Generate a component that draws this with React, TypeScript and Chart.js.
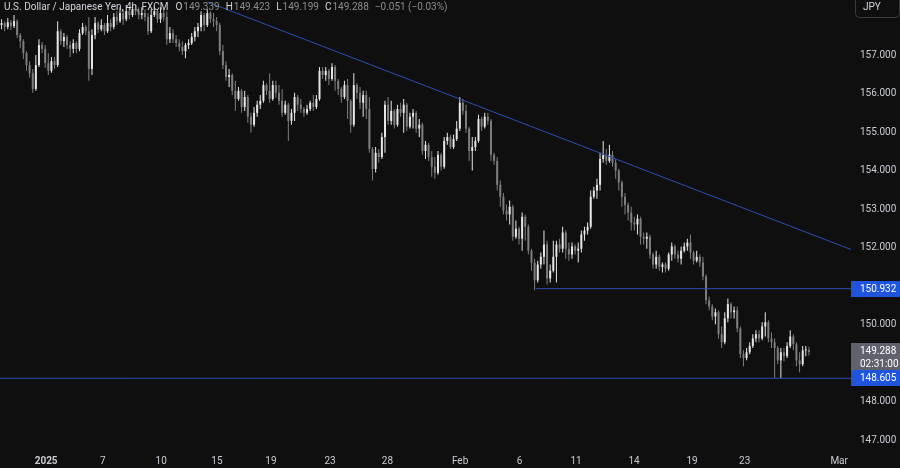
import React, { useEffect, useRef } from 'react';
import { Chart, registerables } from 'chart.js';

Chart.register(...registerables);

const FONT = 'Roboto, "Liberation Sans", Arial, sans-serif';
const BG = '#0f0f0f';
const UP = '#e6e6e6';
const DOWN = '#7e7e7e';
const LINE_BLUE = '#2a4fb0';
const BOX_BLUE = '#1f54dc';
const BOX_GRAY = '#5f626c';
const AXIS_TEXT = '#c9ccd4';

// ---- data (USD/JPY 4h, FXCM) ----
const firstOpen = 157.78;

const closes = [
  157.83, 157.73, 157.85, 157.75, 157.88, 157.52, 157.36, 157.05, 156.74, 156.53,
  156.12, 156.74, 157.26, 157.16, 156.79, 156.59, 156.84, 156.74, 157.62, 157.36,
  157.47, 157.26, 157.16, 157.31, 157.16, 157.57, 157.73, 157.62, 156.64, 157.52,
  157.83, 157.67, 157.78, 157.62, 157.83, 157.73, 157.99, 157.88, 158.09, 157.93,
  158.14, 158.04, 158.19, 158.14, 158.04, 158.09, 157.99, 157.62, 158.04, 158.14,
  157.93, 158.09, 157.99, 157.41, 157.57, 157.41, 157.31, 157.21, 157.10, 157.26,
  157.31, 157.47, 157.62, 157.73, 158.04, 157.78, 158.09, 157.93, 157.88, 157.78,
  157.10, 156.74, 156.43, 156.48, 156.07, 155.86, 156.07, 155.65, 155.91, 155.40,
  155.19, 155.50, 155.71, 155.81, 156.22, 156.07, 155.86, 156.22, 156.02, 155.81,
  155.50, 155.71, 155.29, 155.50, 155.91, 155.71, 155.60, 155.50, 155.60, 155.76,
  155.65, 155.86, 156.59, 156.48, 156.59, 156.38, 156.69, 156.33, 156.12, 155.91,
  156.22, 155.81, 155.19, 156.22, 156.02, 155.76, 155.96, 155.60, 154.56, 154.04,
  154.46, 154.35, 154.87, 155.71, 155.29, 155.55, 155.19, 155.60, 155.50, 155.71,
  155.14, 155.40, 155.50, 155.09, 155.19, 154.51, 154.67, 154.35, 154.10, 153.94,
  154.41, 154.10, 154.77, 154.87, 154.61, 154.82, 155.09, 155.76, 155.55, 155.09,
  154.51, 154.61, 154.77, 155.34, 155.14, 155.40, 155.29, 154.41, 154.25, 153.63,
  153.32, 152.96, 152.86, 153.06, 152.28, 152.49, 152.23, 152.80, 152.54, 151.92,
  151.61, 151.15, 151.56, 151.76, 152.08, 151.20, 151.40, 151.76, 152.08, 151.97,
  152.39, 151.97, 151.82, 152.03, 151.92, 151.97, 152.34, 152.44, 152.54, 153.32,
  153.48, 153.63, 154.30, 154.41, 154.25, 154.41, 154.20, 154.00, 153.69, 153.32,
  153.11, 152.91, 152.65, 152.60, 152.75, 152.28, 152.23, 152.28, 151.82, 151.56,
  151.76, 151.50, 151.56, 151.45, 151.82, 152.03, 151.82, 151.71, 151.92, 152.03,
  152.13, 151.87, 151.66, 151.76, 151.61, 151.25, 150.63, 150.47, 150.21, 150.32,
  149.75, 149.54, 150.16, 150.53, 150.32, 150.37, 149.90, 149.23, 149.13, 149.28,
  149.44, 149.64, 149.75, 149.64, 149.95, 150.06, 149.64, 149.54, 149.39, 149.07,
  149.28, 149.18, 149.44, 149.69, 149.49, 149.07, 148.97, 149.33, 149.34, 149.288,
];

const highs = [
  157.93, 157.88, 157.96, 157.91, 158.04, 157.93, 157.57, 157.41, 157.10, 156.84,
  156.64, 157.00, 157.41, 157.34, 157.26, 157.05, 156.95, 156.95, 157.88, 157.67,
  157.57, 157.52, 157.36, 157.41, 157.36, 157.67, 157.83, 157.78, 157.99, 157.67,
  157.99, 157.88, 157.93, 157.83, 158.04, 157.93, 158.09, 158.14, 158.24, 158.19,
  158.30, 158.24, 158.32, 158.30, 158.24, 158.24, 158.19, 158.09, 158.19, 158.27,
  158.19, 158.24, 158.19, 158.14, 157.73, 157.67, 157.52, 157.41, 157.36, 157.31,
  157.41, 157.57, 157.73, 157.83, 158.14, 158.09, 158.19, 158.14, 158.09, 157.99,
  157.83, 157.26, 156.84, 156.64, 156.53, 156.33, 156.17, 156.12, 156.07, 155.96,
  155.50, 155.65, 155.81, 155.96, 156.33, 156.27, 156.53, 156.33, 156.33, 156.22,
  156.12, 155.81, 155.76, 155.60, 156.02, 155.96, 155.86, 155.65, 155.71, 155.81,
  155.96, 155.96, 156.69, 156.69, 156.69, 156.64, 156.79, 156.74, 156.38, 156.17,
  156.33, 156.38, 155.86, 156.53, 156.27, 156.17, 156.07, 156.07, 155.91, 154.61,
  154.61, 154.56, 154.98, 155.81, 155.91, 155.81, 155.60, 155.71, 155.76, 155.86,
  155.76, 155.50, 155.60, 155.55, 155.34, 155.24, 154.77, 154.72, 154.51, 154.35,
  154.51, 154.46, 154.87, 154.98, 154.93, 154.93, 155.29, 155.91, 155.86, 155.71,
  155.14, 154.87, 154.87, 155.45, 155.40, 155.50, 155.50, 155.34, 154.46, 154.35,
  153.74, 153.42, 153.11, 153.22, 153.11, 152.70, 152.54, 152.91, 152.86, 152.60,
  151.97, 151.71, 151.66, 151.87, 152.44, 152.18, 151.56, 152.18, 152.18, 152.23,
  152.54, 152.44, 152.13, 152.13, 152.08, 152.13, 152.44, 152.54, 152.65, 153.48,
  153.58, 153.79, 154.46, 154.77, 154.56, 154.67, 154.51, 154.30, 154.05, 153.74,
  153.42, 153.17, 153.06, 152.80, 152.86, 152.80, 152.39, 152.39, 152.34, 151.87,
  151.92, 151.82, 151.61, 151.61, 151.87, 152.13, 152.08, 151.92, 152.03, 152.13,
  152.23, 152.34, 151.92, 151.92, 151.82, 151.76, 151.30, 150.73, 150.53, 150.42,
  150.37, 149.95, 150.32, 150.68, 150.58, 150.47, 150.47, 149.95, 149.33, 149.39,
  149.54, 149.75, 149.85, 149.85, 150.06, 150.32, 150.11, 149.80, 149.64, 149.44,
  149.39, 149.39, 149.54, 149.85, 149.75, 149.54, 149.28, 149.44, 149.44, 149.423,
];

const lows = [
  157.67, 157.62, 157.67, 157.65, 157.70, 157.44, 157.18, 156.90, 156.59, 156.41,
  156.02, 156.07, 156.69, 157.05, 156.67, 156.48, 156.54, 156.64, 156.69, 157.26,
  157.21, 157.16, 156.95, 157.05, 157.05, 157.10, 157.52, 157.52, 156.33, 156.48,
  157.41, 157.57, 157.62, 157.52, 157.57, 157.62, 157.67, 157.78, 157.83, 157.78,
  157.88, 157.93, 157.99, 158.04, 157.93, 157.93, 157.88, 157.52, 157.57, 157.99,
  157.83, 157.83, 157.88, 157.26, 157.31, 157.31, 157.21, 157.10, 157.00, 156.92,
  157.16, 157.26, 157.36, 157.47, 157.62, 157.62, 157.73, 157.83, 157.73, 157.62,
  157.00, 156.64, 156.33, 156.17, 155.96, 155.55, 155.81, 155.50, 155.55, 155.24,
  154.98, 155.14, 155.40, 155.60, 155.76, 155.96, 155.76, 155.81, 155.89, 155.71,
  155.40, 155.45, 154.77, 155.19, 155.29, 155.55, 155.50, 155.40, 155.45, 155.55,
  155.55, 155.60, 155.81, 156.38, 156.33, 156.22, 156.33, 156.07, 155.96, 155.76,
  155.86, 155.34, 154.98, 155.14, 155.86, 155.60, 155.40, 155.34, 154.46, 153.74,
  153.95, 154.20, 154.30, 154.46, 155.19, 155.19, 155.09, 155.14, 155.40, 154.98,
  155.03, 155.09, 155.09, 154.98, 154.87, 154.41, 154.30, 154.25, 153.84, 153.79,
  153.89, 154.00, 154.05, 154.67, 154.56, 154.56, 154.77, 155.03, 155.45, 154.98,
  154.25, 154.00, 154.51, 154.72, 155.03, 155.09, 155.19, 154.25, 154.15, 153.48,
  153.06, 152.86, 152.70, 152.60, 152.18, 152.23, 152.08, 151.92, 152.18, 151.82,
  151.40, 150.89, 151.09, 151.45, 151.56, 151.04, 151.09, 151.35, 151.09, 151.87,
  151.87, 151.71, 151.66, 151.71, 151.82, 151.61, 151.87, 152.18, 152.34, 152.49,
  153.27, 153.27, 153.48, 154.20, 154.15, 154.20, 154.10, 153.79, 153.48, 153.06,
  152.86, 152.70, 152.44, 152.44, 152.34, 152.08, 152.08, 151.97, 151.71, 151.45,
  151.45, 151.40, 151.35, 151.35, 151.40, 151.66, 151.71, 151.61, 151.56, 151.87,
  151.92, 151.71, 151.56, 151.61, 151.50, 151.15, 150.53, 150.37, 150.11, 150.01,
  149.64, 149.39, 149.49, 150.06, 150.16, 150.16, 149.80, 149.13, 148.92, 149.07,
  149.23, 149.39, 149.54, 149.54, 149.59, 149.69, 149.54, 149.39, 148.61, 148.97,
  148.61, 149.05, 149.13, 149.39, 149.33, 148.92, 148.76, 148.92, 149.18, 149.199,
];

const xTickPositions = [14.3, 32.5, 51.2, 69.1, 86.4, 105.4, 123.8, 147.1, 166.2, 184.3, 202.9, 221.5, 238.4, 268.7];
const xTickLabels = ['2025', '7', '10', '15', '19', '23', '28', 'Feb', '6', '11', '14', '19', '23', 'Mar'];
const yTickValues = [147, 148, 150, 152, 153, 154, 155, 156, 157];

const trendLineX = [66, 272.5];
const trendLineY = [158.38, 151.95];
const resistanceLevel = 150.932;
const resistanceStartX = 171.5;
const supportLevel = 148.605;
const lastPrice = 149.288;
const countdown = '02:31:00';
const symbolTitle = 'U.S. Dollar / Japanese Yen, 4h, FXCM';
const ohlcLetters = ['O', 'H', 'L', 'C'];
const ohlcValues = ['149.339', '149.423', '149.199', '149.288'];
const changeText = '\u22120.051 (\u22120.03%)';
const currency = 'JPY';

const xMin = -0.5;
const xMax = 272.5;
const yMin = 146.69;
const yMax = 158.43;

const decorPlugin = {
  id: 'decor',
  beforeDraw(chart: any) {
    const ctx = chart.ctx;
    ctx.save();
    ctx.fillStyle = BG;
    ctx.fillRect(0, 0, chart.width, chart.height);
    ctx.restore();
  },
  afterDraw(chart: any) {
    const { ctx, chartArea } = chart;
    const y = chart.scales.y;
    const left = chartArea.right;
    const w = chart.width - left;
    ctx.save();
    ctx.font = `10px ${FONT}`;
    ctx.textBaseline = 'middle';
    ctx.textAlign = 'left';

    // last price box
    const yl = y.getPixelForValue(lastPrice);
    ctx.fillStyle = BOX_GRAY;
    ctx.fillRect(left, Math.round(yl) - 9, w, 29);
    ctx.fillStyle = '#ffffff';
    ctx.fillText(lastPrice.toFixed(3), left + 9, yl);
    ctx.fillText(countdown, left + 9, yl + 13);

    // support box
    const ys = y.getPixelForValue(supportLevel);
    ctx.fillStyle = BOX_BLUE;
    ctx.fillRect(left, Math.round(ys) - 8, w, 16);
    ctx.fillStyle = '#ffffff';
    ctx.fillText(supportLevel.toFixed(3), left + 9, ys + 0.5);

    // resistance box
    const yr = y.getPixelForValue(resistanceLevel);
    ctx.fillStyle = BOX_BLUE;
    ctx.fillRect(left, Math.round(yr) - 8, w, 16);
    ctx.fillStyle = '#ffffff';
    ctx.fillText(resistanceLevel.toFixed(3), left + 9, yr + 0.5);

    // header
    ctx.textBaseline = 'alphabetic';
    let x = 4;
    const by = 10;
    ctx.fillStyle = '#d1d4dc';
    ctx.fillText(symbolTitle, x, by);
    x += ctx.measureText(symbolTitle).width + 7;
    for (let k = 0; k < ohlcLetters.length; k++) {
      ctx.fillStyle = '#d1d4dc';
      ctx.fillText(ohlcLetters[k], x, by);
      x += ctx.measureText(ohlcLetters[k]).width + 1;
      ctx.fillStyle = '#8c8c8c';
      ctx.fillText(ohlcValues[k], x, by);
      x += ctx.measureText(ohlcValues[k]).width + 6;
    }
    ctx.fillStyle = '#8c8c8c';
    ctx.fillText(changeText, x, by);

    // currency box
    ctx.strokeStyle = '#3a3a3a';
    ctx.lineWidth = 1;
    ctx.beginPath();
    if ((ctx as any).roundRect) {
      (ctx as any).roundRect(855.5, -4.5, 44, 22, 4);
    } else {
      ctx.rect(855.5, -4.5, 44, 22);
    }
    ctx.stroke();
    ctx.fillStyle = '#d1d4dc';
    ctx.textBaseline = 'middle';
    ctx.fillText(currency, 863, 7);
    ctx.restore();
  },
};

export default function App() {
  const canvasRef = useRef<HTMLCanvasElement | null>(null);

  useEffect(() => {
    const canvas = canvasRef.current;
    if (!canvas) return;
    const opens = closes.map((c, i) => (i === 0 ? firstOpen : closes[i - 1]));
    const colors = closes.map((c, i) => (c >= opens[i] ? UP : DOWN));
    const wickData = closes.map((c, i) => ({ x: i, y: [lows[i], highs[i]] }));
    const bodyData = closes.map((c, i) => ({ x: i, y: [opens[i], c] }));

    const chart = new Chart(canvas, {
      type: 'bar',
      data: {
        datasets: [
          {
            type: 'line',
            data: [
              { x: trendLineX[0], y: trendLineY[0] },
              { x: trendLineX[1], y: trendLineY[1] },
            ],
            borderColor: LINE_BLUE,
            borderWidth: 1,
            pointRadius: 0,
            order: 0,
          } as any,
          {
            type: 'line',
            data: [
              { x: resistanceStartX, y: resistanceLevel },
              { x: xMax, y: resistanceLevel },
            ],
            borderColor: LINE_BLUE,
            borderWidth: 1,
            pointRadius: 0,
            order: 0,
          } as any,
          {
            type: 'line',
            data: [
              { x: xMin, y: supportLevel },
              { x: xMax, y: supportLevel },
            ],
            borderColor: LINE_BLUE,
            borderWidth: 1,
            pointRadius: 0,
            order: 0,
          } as any,
          {
            type: 'bar',
            data: wickData,
            backgroundColor: colors,
            borderWidth: 0,
            barThickness: 1,
            grouped: false,
            inflateAmount: 0,
            order: 2,
          } as any,
          {
            type: 'bar',
            data: bodyData,
            backgroundColor: colors,
            borderWidth: 0,
            barThickness: 2,
            minBarLength: 1,
            grouped: false,
            inflateAmount: 0,
            order: 1,
          } as any,
        ],
      },
      options: {
        animation: false,
        responsive: true,
        maintainAspectRatio: false,
        layout: { padding: 0 },
        plugins: { legend: { display: false }, tooltip: { enabled: false } },
        scales: {
          x: {
            type: 'linear',
            min: xMin,
            max: xMax,
            offset: false,
            grid: { display: false, drawTicks: false },
            border: { display: false },
            afterBuildTicks: (axis: any) => {
              axis.ticks = xTickPositions.map((v) => ({ value: v }));
            },
            afterFit: (axis: any) => {
              axis.height = 16;
              axis.paddingLeft = 0;
              axis.paddingRight = 0;
            },
            ticks: {
              autoSkip: false,
              maxRotation: 0,
              minRotation: 0,
              padding: 3,
              color: AXIS_TEXT,
              font: (ctx: any) => ({
                family: FONT,
                size: 10,
                weight: ctx.tick && ctx.tick.label === '2025' ? 'bold' : 'normal',
              }),
              callback: (value: any) => {
                const k = xTickPositions.indexOf(Number(value));
                return k >= 0 ? xTickLabels[k] : '';
              },
            },
          },
          y: {
            type: 'linear',
            position: 'right',
            min: yMin,
            max: yMax,
            grid: { display: false, drawTicks: false },
            border: { display: false },
            afterBuildTicks: (axis: any) => {
              axis.ticks = yTickValues.map((v) => ({ value: v }));
            },
            afterFit: (axis: any) => {
              axis.width = 49;
              axis.paddingTop = 0;
              axis.paddingBottom = 0;
            },
            ticks: {
              padding: 9,
              color: AXIS_TEXT,
              font: { family: FONT, size: 10 },
              callback: (value: any) => Number(value).toFixed(3),
            },
          },
        },
      } as any,
      plugins: [decorPlugin],
    });

    return () => chart.destroy();
  }, []);

  return (
    <div
      style={{
        position: 'fixed',
        left: 0,
        top: 0,
        width: 900,
        height: 468,
        background: BG,
      }}
    >
      <canvas ref={canvasRef} />
    </div>
  );
}
